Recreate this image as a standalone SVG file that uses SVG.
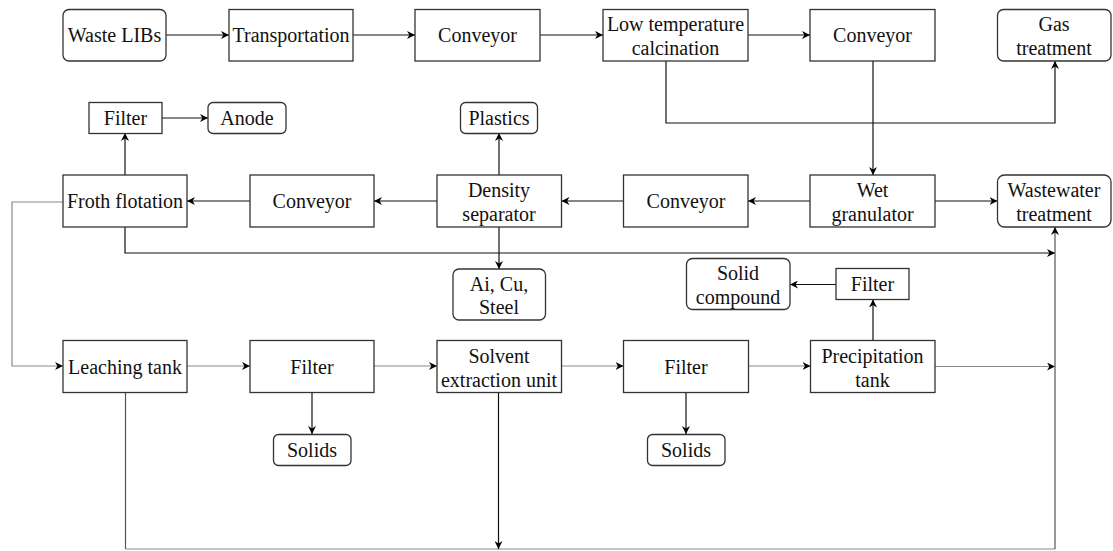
<svg xmlns="http://www.w3.org/2000/svg" width="1113" height="551" viewBox="0 0 1113 551">
<style>
.b{fill:#fff;stroke:#333;stroke-width:1.3}
.t{font-size:20px;fill:#111;text-anchor:middle}
.c{fill:none;stroke:#111;stroke-width:1.2}
.g{fill:none;stroke:#8a8a8a;stroke-width:1.2}
.d{fill:none;stroke:#555;stroke-width:1.2}
</style>
<defs>
<marker id="a" viewBox="0 0 10 10" refX="10" refY="5" markerWidth="8" markerHeight="8" markerUnits="userSpaceOnUse" orient="auto">
<path d="M0,0 L10,5 L0,10 L3,5 z" fill="#000"/>
</marker>
</defs>
<rect width="1113" height="551" fill="#fff"/>
<g id="connectors">
<path class="c" d="M166,35 H229" marker-end="url(#a)"/>
<path class="c" d="M353,35 H415" marker-end="url(#a)"/>
<path class="c" d="M540,35 H603" marker-end="url(#a)"/>
<path class="c" d="M748,35 H810" marker-end="url(#a)"/>
<path class="c" d="M666,61 V123 H1055 V61" marker-end="url(#a)"/>
<path class="c" d="M873,61 V175" marker-end="url(#a)"/>
<path class="c" d="M810,201 H748" marker-end="url(#a)"/>
<path class="c" d="M623,201 H561.5" marker-end="url(#a)"/>
<path class="c" d="M437,201 H374" marker-end="url(#a)"/>
<path class="c" d="M250,201 H187" marker-end="url(#a)"/>
<path class="c" d="M935,201 H997.5" marker-end="url(#a)"/>
<path class="c" d="M499,175 V133" marker-end="url(#a)"/>
<path class="c" d="M499,227 V269" marker-end="url(#a)"/>
<path class="c" d="M125,175 V133" marker-end="url(#a)"/>
<path class="c" d="M162,118 H208" marker-end="url(#a)"/>
<path class="c" d="M125,227 V253 H1055" marker-end="url(#a)"/>
<path class="g" d="M63,202 H12 V366 H63" marker-end="url(#a)"/>
<path class="g" d="M187,366 H250" marker-end="url(#a)"/>
<path class="g" d="M374,366 H437" marker-end="url(#a)"/>
<path class="g" d="M561.5,366 H623.5" marker-end="url(#a)"/>
<path class="g" d="M748.5,366 H810.5" marker-end="url(#a)"/>
<path class="g" d="M935,366.5 H1055" marker-end="url(#a)"/>
<path class="c" d="M873,341 V299.5" marker-end="url(#a)"/>
<path class="c" d="M836,284.5 H790" marker-end="url(#a)"/>
<path class="c" d="M312,393 V434" marker-end="url(#a)"/>
<path class="c" d="M686,393 V434" marker-end="url(#a)"/>
<path class="d" d="M125.5,393 V549"/>
<path class="g" d="M125.5,549 H1055"/>
<path class="d" d="M1055,549 V227" marker-end="url(#a)"/>
<path class="c" d="M498.5,393 V549" marker-end="url(#a)"/>
</g>
<g font-family="Liberation Serif">
<g id="waste-libs"><rect class="b" x="63" y="9.5" width="103" height="51.5" rx="6"/><text class="t" font-family="Liberation Serif" x="114.5" y="42">Waste LIBs</text></g>
<g id="transportation"><rect class="b" x="229" y="9.5" width="124" height="51.5"/><text class="t" font-family="Liberation Serif" x="291" y="42">Transportation</text></g>
<g id="conveyor1"><rect class="b" x="415" y="9.5" width="125" height="51.5"/><text class="t" font-family="Liberation Serif" x="477.5" y="42">Conveyor</text></g>
<g id="low-temp-calcination"><rect class="b" x="603" y="9.5" width="145" height="51.5"/><text class="t" font-family="Liberation Serif" x="675.5" y="31">Low temperature</text><text class="t" font-family="Liberation Serif" x="675.5" y="55">calcination</text></g>
<g id="conveyor2"><rect class="b" x="810" y="9.5" width="125" height="51.5"/><text class="t" font-family="Liberation Serif" x="872.5" y="42">Conveyor</text></g>
<g id="gas-treatment"><rect class="b" x="997.5" y="9.5" width="113.5" height="51.5" rx="6"/><text class="t" font-family="Liberation Serif" x="1054" y="31">Gas</text><text class="t" font-family="Liberation Serif" x="1054" y="55">treatment</text></g>
<g id="filter-top"><rect class="b" x="89" y="102.5" width="73" height="31"/><text class="t" font-family="Liberation Serif" x="125.5" y="125">Filter</text></g>
<g id="anode"><rect class="b" x="208" y="102.5" width="78" height="31" rx="5"/><text class="t" font-family="Liberation Serif" x="247" y="125">Anode</text></g>
<g id="plastics"><rect class="b" x="460.5" y="102.5" width="77" height="31" rx="5"/><text class="t" font-family="Liberation Serif" x="499" y="125">Plastics</text></g>
<g id="froth-flotation"><rect class="b" x="63" y="175" width="124" height="52"/><text class="t" font-family="Liberation Serif" x="125" y="208">Froth flotation</text></g>
<g id="conveyor3"><rect class="b" x="250" y="175" width="124" height="52"/><text class="t" font-family="Liberation Serif" x="312" y="208">Conveyor</text></g>
<g id="density-separator"><rect class="b" x="437" y="175" width="124.5" height="52"/><text class="t" font-family="Liberation Serif" x="499" y="197">Density</text><text class="t" font-family="Liberation Serif" x="499" y="221">separator</text></g>
<g id="conveyor4"><rect class="b" x="623.5" y="175" width="124.5" height="52"/><text class="t" font-family="Liberation Serif" x="686" y="208">Conveyor</text></g>
<g id="wet-granulator"><rect class="b" x="810" y="175" width="125" height="52"/><text class="t" font-family="Liberation Serif" x="872.5" y="197">Wet</text><text class="t" font-family="Liberation Serif" x="872.5" y="221">granulator</text></g>
<g id="wastewater-treatment"><rect class="b" x="997.5" y="175" width="113.5" height="52" rx="7"/><text class="t" font-family="Liberation Serif" x="1054" y="197">Wastewater</text><text class="t" font-family="Liberation Serif" x="1054" y="221">treatment</text></g>
<g id="ai-cu-steel"><rect class="b" x="453" y="269" width="92.5" height="51" rx="6"/><text class="t" font-family="Liberation Serif" x="499" y="291">Ai, Cu,</text><text class="t" font-family="Liberation Serif" x="499" y="314">Steel</text></g>
<g id="solid-compound"><rect class="b" x="686.5" y="258.5" width="103.5" height="51" rx="6"/><text class="t" font-family="Liberation Serif" x="738" y="280">Solid</text><text class="t" font-family="Liberation Serif" x="738" y="304">compound</text></g>
<g id="filter-small"><rect class="b" x="836" y="268.5" width="73" height="31"/><text class="t" font-family="Liberation Serif" x="872.5" y="291">Filter</text></g>
<g id="leaching-tank"><rect class="b" x="63" y="340.5" width="124" height="52"/><text class="t" font-family="Liberation Serif" x="125" y="373.5">Leaching tank</text></g>
<g id="filter1"><rect class="b" x="250" y="340.5" width="124" height="52"/><text class="t" font-family="Liberation Serif" x="312" y="373.5">Filter</text></g>
<g id="solvent-extraction-unit"><rect class="b" x="437" y="340.5" width="124.5" height="52"/><text class="t" font-family="Liberation Serif" x="499" y="362.5">Solvent</text><text class="t" font-family="Liberation Serif" x="499" y="386.5">extraction unit</text></g>
<g id="filter2"><rect class="b" x="623.5" y="340.5" width="125" height="52"/><text class="t" font-family="Liberation Serif" x="686" y="373.5">Filter</text></g>
<g id="precipitation-tank"><rect class="b" x="810.5" y="340.5" width="124.5" height="52"/><text class="t" font-family="Liberation Serif" x="872.5" y="362.5">Precipitation</text><text class="t" font-family="Liberation Serif" x="872.5" y="386.5">tank</text></g>
<g id="solids1"><rect class="b" x="273.5" y="434.5" width="77.5" height="31" rx="5"/><text class="t" font-family="Liberation Serif" x="312" y="457">Solids</text></g>
<g id="solids2"><rect class="b" x="647.5" y="434.5" width="77.5" height="31" rx="5"/><text class="t" font-family="Liberation Serif" x="686" y="457">Solids</text></g>
</g>
</svg>
